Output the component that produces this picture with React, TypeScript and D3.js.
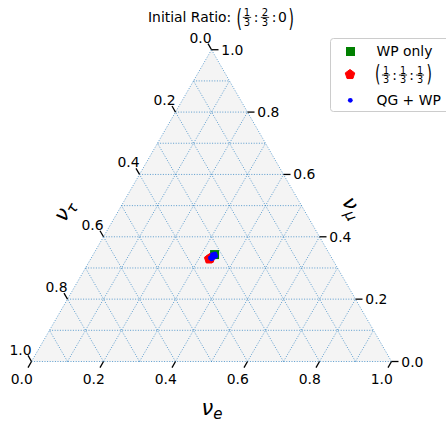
import React from 'react';
import * as d3 from 'd3';

const W = 446;
const H = 424;
const FONT = "'DejaVu Sans', sans-serif";
const FS = 13.9;

// tick labels / grid
const tickValues = [0, 0.2, 0.4, 0.6, 0.8, 1.0];
const gridValues = [0, 0.1, 0.2, 0.3, 0.4, 0.5, 0.6, 0.7, 0.8, 0.9, 1.0];

// series (flavor ratios at Earth: nu_e, nu_mu, nu_tau)
const wpOnly = [{ e: 0.337, mu: 0.343, tau: 0.32 }];
const equalRatio = [
  { e: 0.329, mu: 0.329, tau: 0.342 },
  { e: 0.331, mu: 0.331, tau: 0.338 },
];
const qgWp = [
  { e: 0.331, mu: 0.332, tau: 0.337 },
  { e: 0.333, mu: 0.337, tau: 0.33 },
  { e: 0.335, mu: 0.342, tau: 0.323 },
  { e: 0.337, mu: 0.345, tau: 0.318 },
  { e: 0.336, mu: 0.329, tau: 0.335 },
  { e: 0.34, mu: 0.334, tau: 0.326 },
  { e: 0.343, mu: 0.338, tau: 0.319 },
  { e: 0.331, mu: 0.343, tau: 0.326 },
];

const LEFT = 31.5;
const RIGHT = 391.5;
const BOTTOM = 361.5;
const SIDE = RIGHT - LEFT;
const TRI_H = (SIDE * Math.sqrt(3)) / 2;
const TOP = BOTTOM - TRI_H;

const xs = d3.scaleLinear().domain([0, 1]).range([LEFT, RIGHT]);
const ys = d3.scaleLinear().domain([0, 1]).range([BOTTOM, TOP]);
const proj = (e: number, mu: number): [number, number] => [xs(e + mu / 2), ys(mu)];
const fmt = d3.format('.1f');

const GRID_COLOR = '#2a7fc0';

function pentagonPath(r: number) {
  const pts = d3.range(5).map((k) => {
    const a = (-90 + 72 * k) * (Math.PI / 180);
    return [r * Math.cos(a), r * Math.sin(a)] as [number, number];
  });
  return d3.line()(pts) + 'Z';
}

const squarePath = d3.symbol(d3.symbolSquare, 81)() as string;

function Frac({ cx, axis, num, den, size }: { cx: number; axis: number; num: string; den: string; size: number }) {
  const w = size * 0.636 + 2;
  return (
    <g>
      <text x={cx} y={axis - 1.4} fontSize={size} textAnchor="middle">{num}</text>
      <line x1={cx - w / 2} x2={cx + w / 2} y1={axis} y2={axis} stroke="black" strokeWidth={0.8} />
      <text x={cx} y={axis + 1.4 + size * 0.73} fontSize={size} textAnchor="middle">{den}</text>
    </g>
  );
}

function Paren({ x, y, s, ch }: { x: number; y: number; s: number; ch: string }) {
  return (
    <text transform={`translate(${x},${y}) scale(1,${s})`} fontSize={FS}>{ch}</text>
  );
}

export default function App() {
  const gridLines: { a: [number, number]; b: [number, number] }[] = [];
  gridValues.forEach((v) => {
    if (v < 1) {
      gridLines.push({ a: proj(0, v), b: proj(1 - v, v) });
      gridLines.push({ a: proj(v, 0), b: proj(v, 1 - v) });
      gridLines.push({ a: proj(1 - v, 0), b: proj(0, 1 - v) });
    }
  });

  const tri = [proj(0, 0), proj(1, 0), proj(0, 1)];
  const TL = 7;
  const c60 = 0.5;
  const s60 = Math.sqrt(3) / 2;

  return (
    <svg width={W} height={H} style={{ position: 'absolute', left: 0, top: 0, background: 'white' }} fontFamily={FONT}>
      {/* title */}
      <g fontSize={FS}>
        <text x={148} y={22}>Initial Ratio: </text>
        <Paren x={236.5} y={26.8} s={1.77} ch="(" />
        <Frac cx={247} axis={17.4} num="1" den="3" size={10} />
        <text x={256} y={22} textAnchor="middle">:</text>
        <Frac cx={265} axis={17.4} num="2" den="3" size={10} />
        <text x={274} y={22} textAnchor="middle">:</text>
        <text x={282.5} y={22} textAnchor="middle">0</text>
        <Paren x={288.5} y={26.8} s={1.77} ch=")" />
      </g>

      {/* triangle background */}
      <path d={d3.line()(tri) + 'Z'} fill="#f4f4f4" stroke="none" />

      {/* grid */}
      <g stroke={GRID_COLOR} strokeOpacity={0.75} strokeWidth={1} strokeDasharray="1 1.6" fill="none">
        {gridLines.map((l, i) => (
          <line key={i} x1={l.a[0]} y1={l.a[1]} x2={l.b[0]} y2={l.b[1]} />
        ))}
      </g>

      {/* ticks */}
      <g stroke="black" strokeWidth={1.3}>
        {tickValues.map((v) => {
          const [bx, by] = proj(v, 0);
          const [lx, ly] = proj(0, 1 - v);
          const [rx, ry] = proj(1 - v, v);
          return (
            <g key={v}>
              <line x1={bx} y1={by} x2={bx - TL * c60} y2={by + TL * s60} />
              <line x1={lx} y1={ly} x2={lx - TL * c60} y2={ly - TL * s60} />
              <line x1={rx} y1={ry} x2={rx + TL} y2={ry} />
            </g>
          );
        })}
      </g>
      <g fontSize={FS} fill="black">
        {tickValues.map((v) => {
          const [bx, by] = proj(v, 0);
          const [lx, ly] = proj(0, 1 - v);
          const [rx, ry] = proj(1 - v, v);
          return (
            <g key={v}>
              <text x={bx - 9.8} y={by + 17} textAnchor="middle" dominantBaseline="central">{fmt(v)}</text>
              <text x={lx - 11} y={ly - 12} textAnchor="middle" dominantBaseline="central">{fmt(v)}</text>
              <text x={rx + 9.8} y={ry} textAnchor="start" dominantBaseline="central">{fmt(v)}</text>
            </g>
          );
        })}
      </g>

      {/* axis labels */}
      <g fontSize={21} fontStyle="italic" fill="black">
        <text x={212} y={415} textAnchor="middle">
          ν<tspan fontSize={15} dy={4}>e</tspan>
        </text>
        <g transform="translate(65,211) rotate(-60)">
          <text x={0} y={6} textAnchor="middle">
            ν<tspan fontSize={15} dy={4}>τ</tspan>
          </text>
        </g>
        <g transform="translate(352,208) rotate(60)">
          <text x={0} y={6} textAnchor="middle">
            ν<tspan fontSize={15} dy={4}>μ</tspan>
          </text>
        </g>
      </g>

      {/* data */}
      <g>
        {wpOnly.map((d, i) => {
          const [px, py] = proj(d.e, d.mu);
          return <path key={i} d={squarePath} transform={`translate(${px},${py})`} fill="green" />;
        })}
        {equalRatio.map((d, i) => {
          const [px, py] = proj(d.e, d.mu);
          return (
            <path key={i} d={pentagonPath(5)} transform={`translate(${px},${py})`} fill="red" stroke="red" strokeWidth={1} strokeLinejoin="round" />
          );
        })}
        {qgWp.map((d, i) => {
          const [px, py] = proj(d.e, d.mu);
          return <circle key={i} cx={px} cy={py} r={2.4} fill="blue" />;
        })}
      </g>

      {/* legend */}
      <g>
        <rect x={330.5} y={38.5} width={125} height={73} rx={3} fill="white" fillOpacity={0.8} stroke="#cccccc" strokeWidth={1} />
        <path d={squarePath} transform="translate(350.5,51.5)" fill="green" />
        <text x={376.5} y={55.5} fontSize={FS}>WP only</text>
        <path d={pentagonPath(5)} transform="translate(350,74.5)" fill="red" stroke="red" strokeWidth={1} strokeLinejoin="round" />
        <g fontSize={FS}>
          <Paren x={375} y={82} s={1.6} ch="(" />
          <Frac cx={386} axis={75} num="1" den="3" size={9.7} />
          <text x={394.5} y={80} textAnchor="middle">:</text>
          <Frac cx={403} axis={75} num="1" den="3" size={9.7} />
          <text x={411.5} y={80} textAnchor="middle">:</text>
          <Frac cx={420} axis={75} num="1" den="3" size={9.7} />
          <Paren x={426.5} y={82} s={1.6} ch=")" />
        </g>
        <circle cx={350.3} cy={100.3} r={2.4} fill="blue" />
        <text x={376.5} y={104.5} fontSize={FS}>QG + WP</text>
      </g>
    </svg>
  );
}
